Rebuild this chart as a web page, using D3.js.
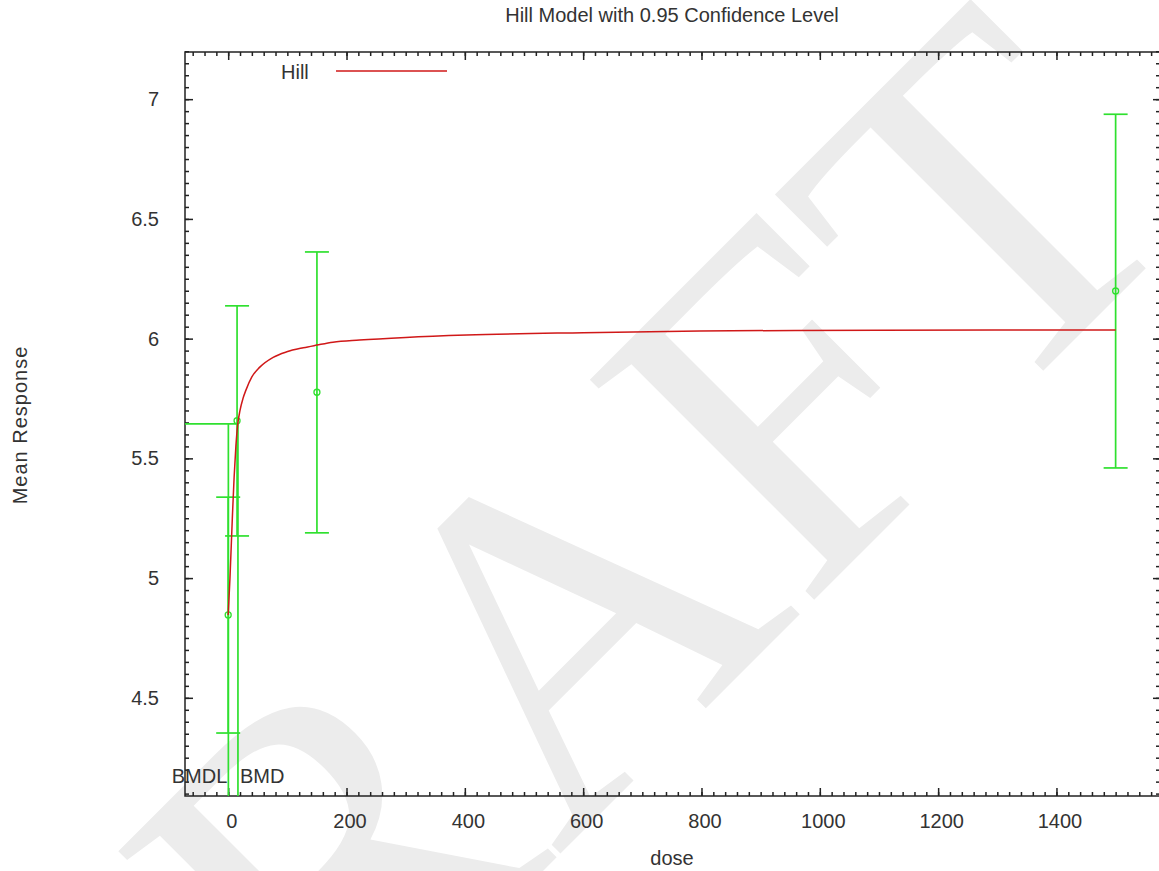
<!DOCTYPE html>
<meta charset="utf-8">
<head>
  <meta charset="utf-8">
  <title>Hill Model with 0.95 Confidence Level</title>
  <script src="https://d3js.org/d3.v7.min.js"></script>
</head>

<style>
body {margin:0; background:#fff;}
svg text {font-family: "Liberation Sans", Arial, sans-serif; fill: #333;}
.fit {fill: none; stroke: #d01818; stroke-width: 1.5px;}
.bar {fill: none; stroke: #2fe02f; stroke-width: 1.7px;}
.frame {fill: none; stroke: #222; stroke-width: 1.5px;}
.axis line {stroke: #222; stroke-width: 1.5px;}
.axis path {display: none;}
.watermark {font-family: "Liberation Serif", "DejaVu Serif", serif; fill: #ececec;}
</style>

<body>
<script>

// observed dose groups (mean and 95% limits)
var doses = [0, 15, 150, 1500];
var means = [4.846, 5.657, 5.776, 6.199];
var lower = [4.353, 5.176, 5.189, 5.460];
var upper = [5.338, 6.137, 6.362, 6.937];

// fitted Hill curve
var fitDose = [0, 3, 7, 10, 13, 16, 20, 25, 30, 40, 53, 76, 99, 127, 150, 177, 222, 300, 403, 600, 797, 1100, 1500];
var fitResp = [4.846, 5.0, 5.25, 5.42, 5.55, 5.64, 5.7, 5.75, 5.785, 5.84, 5.88, 5.922, 5.945, 5.962, 5.973, 5.985, 5.994, 6.005, 6.015, 6.025, 6.032, 6.035, 6.036];

// benchmark dose markers
var bmr = 5.644, bmd = 16.5, bmdl = 0.3;

var xTicks = [0, 200, 400, 600, 800, 1000, 1200, 1400];
var yTicks = [4.5, 5, 5.5, 6, 6.5, 7];

var W = 1159, H = 871;
var pLeft = 185, pRight = 1160, pTop = 52, pBottom = 796;

var svg = d3.select("body").append("svg")
    .attr("width", W)
    .attr("height", H);

// DRAFT watermark behind everything
svg.append("text")
    .attr("class", "watermark")
    .attr("text-anchor", "middle")
    .attr("font-size", 480)
    .attr("transform", "translate(642,772) rotate(-45)")
    .text("DRAFT");

var x = d3.scaleLinear()
    .domain([-73, 1575])
    .range([pLeft, pRight]);

var y = d3.scaleLinear()
    .domain([4.09, 7.197])
    .range([pBottom, pTop]);

var xMinor = d3.range(-60, 1575, 20);
var yMinor = d3.range(4.1, 7.2, 0.05);

// bottom axis
svg.append("g").attr("class", "axis")
    .attr("transform", "translate(0," + pBottom + ")")
    .call(d3.axisBottom(x).tickValues(xMinor).tickSize(-4).tickSizeOuter(0).tickFormat(""));
var xa = svg.append("g").attr("class", "axis")
    .attr("transform", "translate(0," + pBottom + ")")
    .call(d3.axisBottom(x).tickValues(xTicks).tickSize(-8).tickSizeOuter(0).tickPadding(18).tickFormat(d3.format("d")));
xa.selectAll("text").attr("font-size", 20).attr("dx", 3);

// top axis (mirror)
svg.append("g").attr("class", "axis")
    .attr("transform", "translate(0," + pTop + ")")
    .call(d3.axisTop(x).tickValues(xMinor).tickSize(-4).tickSizeOuter(0).tickFormat(""));
svg.append("g").attr("class", "axis")
    .attr("transform", "translate(0," + pTop + ")")
    .call(d3.axisTop(x).tickValues(xTicks).tickSize(-8).tickSizeOuter(0).tickFormat(""));

// left axis
svg.append("g").attr("class", "axis")
    .attr("transform", "translate(" + pLeft + ",0)")
    .call(d3.axisLeft(y).tickValues(yMinor).tickSize(-4).tickSizeOuter(0).tickFormat(""));
var ya = svg.append("g").attr("class", "axis")
    .attr("transform", "translate(" + pLeft + ",0)")
    .call(d3.axisLeft(y).tickValues(yTicks).tickSize(-8).tickSizeOuter(0).tickPadding(26).tickFormat(d3.format("")));
ya.selectAll("text").attr("font-size", 20);

// right axis (mirror)
svg.append("g").attr("class", "axis")
    .attr("transform", "translate(" + pRight + ",0)")
    .call(d3.axisRight(y).tickValues(yMinor).tickSize(-4).tickSizeOuter(0).tickFormat(""));
svg.append("g").attr("class", "axis")
    .attr("transform", "translate(" + pRight + ",0)")
    .call(d3.axisRight(y).tickValues(yTicks).tickSize(-7).tickSizeOuter(0).tickFormat(""));

svg.selectAll(".axis").attr("font-family", null).attr("font-size", null);

// frame
svg.append("rect")
    .attr("class", "frame")
    .attr("x", pLeft).attr("y", pTop)
    .attr("width", pRight - pLeft).attr("height", pBottom - pTop);

// BMD / BMDL lines
svg.append("line").attr("class", "bar")
    .attr("x1", x.range()[0]).attr("x2", x(bmd))
    .attr("y1", y(bmr)).attr("y2", y(bmr));
svg.append("line").attr("class", "bar")
    .attr("x1", x(bmd)).attr("x2", x(bmd))
    .attr("y1", y(bmr)).attr("y2", y.range()[0]);
svg.append("line").attr("class", "bar")
    .attr("x1", x(bmdl)).attr("x2", x(bmdl))
    .attr("y1", y(bmr)).attr("y2", y.range()[0]);

// error bars
var groups = doses.map(function(d, i) {
  return {dose: d, mean: means[i], lo: lower[i], hi: upper[i]};
});
var eb = svg.append("g").selectAll("g")
    .data(groups)
    .enter().append("g");
eb.append("line").attr("class", "bar")
    .attr("x1", function(d) { return x(d.dose); })
    .attr("x2", function(d) { return x(d.dose); })
    .attr("y1", function(d) { return y(d.lo); })
    .attr("y2", function(d) { return y(d.hi); });
eb.append("line").attr("class", "bar")
    .attr("x1", function(d) { return x(d.dose) - 12; })
    .attr("x2", function(d) { return x(d.dose) + 12; })
    .attr("y1", function(d) { return y(d.hi); })
    .attr("y2", function(d) { return y(d.hi); });
eb.append("line").attr("class", "bar")
    .attr("x1", function(d) { return x(d.dose) - 12; })
    .attr("x2", function(d) { return x(d.dose) + 12; })
    .attr("y1", function(d) { return y(d.lo); })
    .attr("y2", function(d) { return y(d.lo); });

// fitted curve
var fit = fitDose.map(function(d, i) { return {dose: d, resp: fitResp[i]}; });
var valueline = d3.line()
    .x(function(d) { return x(d.dose); })
    .y(function(d) { return y(d.resp); })
    .curve(d3.curveMonotoneX);
svg.append("path")
    .datum(fit)
    .attr("class", "fit")
    .attr("d", valueline);

// means
eb.append("circle")
    .attr("cx", function(d) { return x(d.dose); })
    .attr("cy", function(d) { return y(d.mean); })
    .attr("r", 3)
    .attr("fill", "none")
    .attr("stroke", "#2fe02f")
    .attr("stroke-width", 1.3);

// BMDL / BMD labels
svg.append("text")
    .attr("x", x(bmdl) - 1).attr("y", 783)
    .attr("text-anchor", "end")
    .attr("font-size", 20)
    .text("BMDL");
svg.append("text")
    .attr("x", x(bmd) + 2).attr("y", 783)
    .attr("font-size", 20)
    .text("BMD");

// legend
svg.append("text")
    .attr("x", 281).attr("y", 79)
    .attr("font-size", 20)
    .text("Hill");
svg.append("line")
    .attr("x1", 336).attr("x2", 447)
    .attr("y1", 71).attr("y2", 71)
    .attr("stroke", "#d01818").attr("stroke-width", 1.5);

// titles
svg.append("text")
    .attr("x", 672).attr("y", 22)
    .attr("text-anchor", "middle")
    .attr("font-size", 20)
    .text("Hill Model with 0.95 Confidence Level");
svg.append("text")
    .attr("x", 672).attr("y", 865)
    .attr("text-anchor", "middle")
    .attr("font-size", 20)
    .text("dose");
svg.append("text")
    .attr("transform", "translate(27,425) rotate(-90)")
    .attr("text-anchor", "middle")
    .attr("font-size", 20)
    .attr("letter-spacing", 1)
    .text("Mean Response");

</script>
</body>
